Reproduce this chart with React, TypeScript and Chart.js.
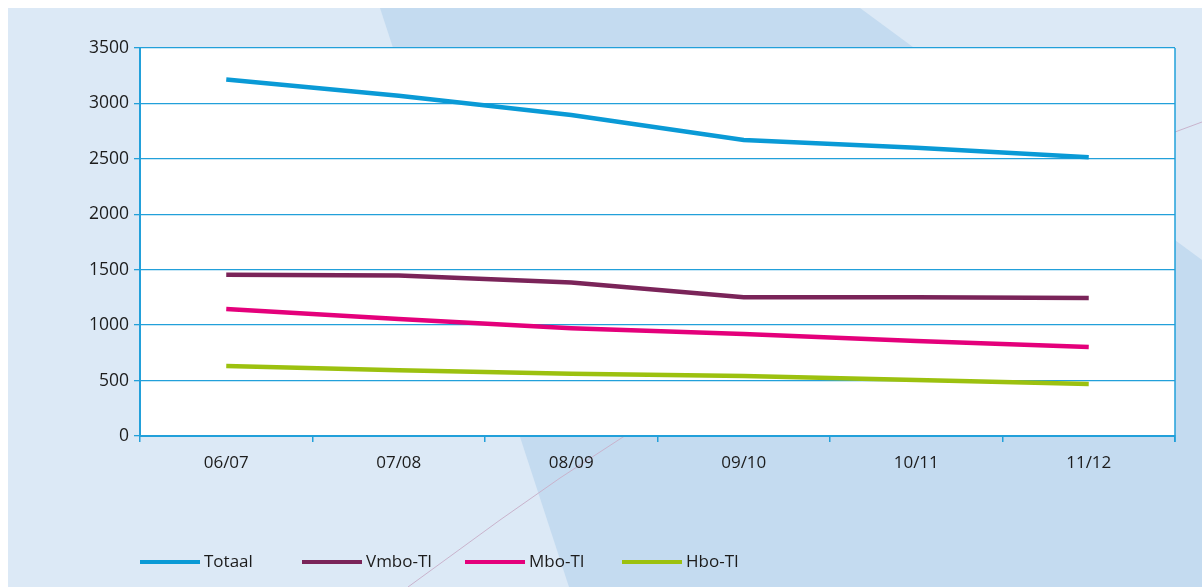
import React, { useEffect, useRef } from "react";
import { Chart, registerables } from "chart.js";

Chart.register(...registerables);

const categories = ["06/07", "07/08", "08/09", "09/10", "10/11", "11/12"];
const totaal = [3215, 3070, 2895, 2670, 2600, 2515];
const vmbo = [1455, 1448, 1385, 1252, 1252, 1245];
const mbo = [1145, 1055, 972, 920, 857, 803];
const hbo = [632, 592, 562, 542, 505, 470];
const seriesNames = ["Totaal", "Vmbo-TI", "Mbo-TI", "Hbo-TI"];
const seriesColors = ["#0a9ad6", "#7a2459", "#e4007b", "#9cc10f"];
const yTicks = [0, 500, 1000, 1500, 2000, 2500, 3000, 3500];

const FONT = "'Open Sans', 'Noto Sans', sans-serif";
const GRID = "#22a0da";
const TEXT = "#1c1c1c";

const bgPlugin = {
  id: "bgDeco",
  beforeDraw(chart: any) {
    const { ctx, width, height, chartArea } = chart;
    ctx.save();
    ctx.fillStyle = "#dce9f6";
    ctx.fillRect(0, 0, width, height);
    ctx.fillStyle = "#c4dbf0";
    ctx.beginPath();
    ctx.moveTo(372, 0);
    ctx.lineTo(852, 0);
    ctx.lineTo(1194, 252);
    ctx.lineTo(1194, 579);
    ctx.lineTo(561, 579);
    ctx.closePath();
    ctx.fill();
    ctx.strokeStyle = "#c9b3cc";
    ctx.lineWidth = 1;
    ctx.beginPath();
    ctx.moveTo(400, 579);
    ctx.lineTo(492, 512);
    ctx.lineTo(552, 470);
    ctx.lineTo(615, 429);
    ctx.lineTo(1167, 124);
    ctx.lineTo(1194, 114);
    ctx.stroke();
    ctx.fillStyle = "#ffffff";
    ctx.fillRect(chartArea.left, chartArea.top, chartArea.right - chartArea.left, chartArea.bottom - chartArea.top);
    ctx.restore();
  },
  afterDatasetsDraw(chart: any) {
    const { ctx, chartArea } = chart;
    ctx.save();
    ctx.strokeStyle = GRID;
    ctx.lineWidth = 1.5;
    ctx.beginPath();
    ctx.moveTo(chartArea.right, chartArea.top);
    ctx.lineTo(chartArea.right, chartArea.bottom + 6);
    ctx.stroke();
    const xs = [132, 294, 457, 614];
    const y = 554;
    ctx.font = `17px ${FONT}`;
    ctx.textBaseline = "middle";
    chart.data.datasets.forEach((ds: any, i: number) => {
      ctx.strokeStyle = ds.borderColor;
      ctx.lineWidth = 4;
      ctx.beginPath();
      ctx.moveTo(xs[i], y);
      ctx.lineTo(xs[i] + 60, y);
      ctx.stroke();
      ctx.fillStyle = TEXT;
      ctx.fillText(ds.label, xs[i] + 64, y);
    });
    ctx.restore();
  },
};

export default function App() {
  const ref = useRef<HTMLCanvasElement>(null);
  useEffect(() => {
    if (!ref.current) return;
    const values = [totaal, vmbo, mbo, hbo];
    const chart = new Chart(ref.current, {
      type: "line",
      data: {
        labels: categories,
        datasets: values.map((v, i) => ({
          label: seriesNames[i],
          data: v,
          borderColor: seriesColors[i],
          backgroundColor: seriesColors[i],
          borderWidth: 4.5,
          pointRadius: 0,
          tension: 0,
          fill: false,
        })),
      },
      options: {
        animation: false,
        responsive: false,
        maintainAspectRatio: false,
        layout: { padding: { left: 0, right: 27, top: 40, bottom: 0 } },
        plugins: { legend: { display: false }, tooltip: { enabled: false } },
        scales: {
          x: {
            offset: true,
            grid: {
              offset: true,
              drawOnChartArea: false,
              drawTicks: true,
              tickLength: 6,
              color: GRID,
              lineWidth: 1.5,
            },
            border: { display: true, color: GRID, width: 2 },
            ticks: { color: TEXT, font: { family: FONT, size: 17 }, padding: 11 },
            afterFit: (s: any) => {
              s.height = 151;
            },
          },
          y: {
            min: 0,
            max: 3500,
            afterBuildTicks: (s: any) => {
              s.ticks = yTicks.map((v) => ({ value: v }));
            },
            grid: { color: GRID, lineWidth: 1.3, drawTicks: true, tickLength: 6 },
            border: { display: true, color: GRID, width: 2 },
            ticks: {
              color: TEXT,
              font: { family: FONT, size: 17.5 },
              padding: 5,
              callback: (v: any) => String(v),
            },
            afterFit: (s: any) => {
              s.width = 132;
            },
          },
        },
      },
      plugins: [bgPlugin],
    });
    return () => chart.destroy();
  }, []);
  return (
    <div style={{ position: "fixed", left: 8, top: 8, width: 1194, height: 579 }}>
      <canvas ref={ref} width={1194} height={579} style={{ display: "block", width: 1194, height: 579 }} />
    </div>
  );
}
